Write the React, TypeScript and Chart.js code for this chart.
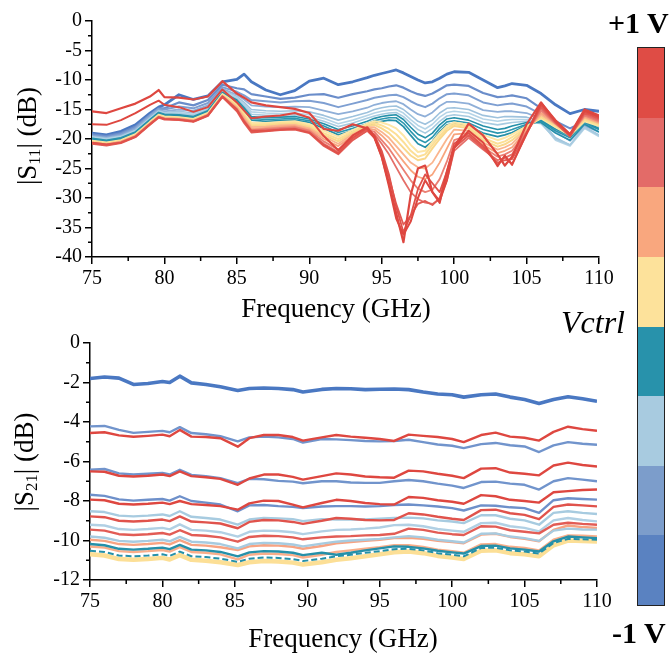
import React, { useEffect, useRef } from 'react';
import { Chart, registerables } from 'chart.js';
Chart.register(...registerables);

// ---------- S11 data ----------
const FREQ_S11 = [75,76,77,78,79,79.6,80,81,82,83,84,85,85.5,86,87,88,89,90,91,92,93,94,94.5,95,95.5,96,96.5,97,97.5,98,98.5,99,99.5,100,101,102,103,103.5,104,105,106,107,108,109,110];

const S11_B1 = [-19.0,-19.3,-18.7,-17.6,-15.6,-14.6,-14.2,-12.5,-13.3,-12.7,-10.3,-9.9,-9.0,-10.3,-11.7,-12.5,-11.8,-10.2,-9.7,-10.8,-10.3,-9.6,-9.2,-8.9,-8.6,-8.3,-8.8,-9.4,-10.0,-10.5,-10.3,-9.7,-9.0,-8.6,-8.7,-10.0,-11.3,-11.0,-10.6,-10.9,-12.3,-14.2,-15.7,-15.0,-15.3];
const S11_B2 = [-19.2,-19.5,-19.0,-17.9,-15.9,-14.8,-14.8,-13.8,-14.3,-13.4,-10.8,-11.4,-11.6,-12.4,-12.8,-13.2,-13.0,-12.5,-12.4,-13.0,-12.4,-11.9,-11.6,-11.4,-11.1,-10.9,-11.3,-11.9,-12.4,-12.7,-12.3,-11.6,-10.9,-10.8,-11.0,-12.2,-12.9,-12.8,-12.6,-13.1,-14.8,-17.0,-18.2,-17.0,-17.8];
const S11_B3 = [-19.4,-19.7,-19.2,-18.1,-16.0,-14.9,-15.0,-14.5,-14.8,-13.9,-11.2,-12.0,-12.6,-13.4,-13.6,-13.8,-13.6,-13.5,-13.9,-14.6,-14.0,-13.4,-13.0,-12.8,-12.6,-12.5,-12.9,-13.6,-14.2,-14.6,-14.0,-13.1,-12.4,-12.3,-12.6,-13.8,-14.3,-14.1,-14.0,-14.5,-15.8,-17.8,-19.2,-17.5,-18.3];
const S11_B4 = [-19.5,-19.8,-19.4,-18.3,-16.2,-15.1,-15.3,-15.0,-15.2,-14.3,-11.5,-12.5,-13.3,-14.3,-14.5,-14.6,-14.5,-14.6,-15.2,-15.8,-15.3,-14.7,-14.2,-13.9,-13.7,-13.6,-14.1,-15.0,-15.8,-16.2,-15.5,-14.4,-13.7,-13.7,-14.0,-15.1,-15.4,-15.3,-15.3,-15.6,-16.6,-18.8,-20.3,-17.8,-18.8];
const S11_L1 = [-19.6,-19.9,-19.5,-18.5,-16.4,-15.2,-15.5,-15.3,-15.6,-14.6,-11.7,-12.8,-13.8,-15.0,-15.2,-15.3,-15.2,-15.4,-16.0,-16.8,-16.2,-15.5,-15.0,-14.7,-14.5,-14.4,-15.0,-16.0,-17.0,-17.5,-16.8,-15.6,-14.8,-14.7,-15.0,-16.0,-16.4,-16.2,-16.2,-16.3,-17.0,-19.8,-21.0,-18.0,-19.3];
const S11_L2 = [-19.7,-20.0,-19.6,-18.6,-16.5,-15.3,-15.6,-15.5,-15.8,-14.8,-11.8,-13.0,-14.1,-15.4,-15.6,-15.7,-15.6,-15.9,-16.5,-17.4,-16.8,-16.0,-15.6,-15.3,-15.1,-15.0,-15.6,-16.7,-17.7,-18.3,-17.5,-16.3,-15.5,-15.3,-15.6,-16.6,-17.0,-16.8,-16.7,-16.7,-17.2,-20.2,-21.2,-18.2,-19.6];
const S11_L3 = [-19.8,-20.1,-19.7,-18.7,-16.6,-15.4,-15.7,-15.7,-16.0,-15.0,-12.0,-13.2,-14.4,-15.8,-16.0,-16.0,-15.9,-16.3,-17.0,-17.9,-17.3,-16.5,-16.1,-15.8,-15.6,-15.5,-16.2,-17.3,-18.4,-19.0,-18.2,-17.0,-16.1,-15.9,-16.2,-17.2,-17.6,-17.4,-17.2,-17.0,-17.4,-20.0,-21.0,-18.0,-19.4];
const S11_T1 = [-19.9,-20.2,-19.8,-18.8,-16.7,-15.5,-15.8,-15.9,-16.2,-15.2,-12.1,-13.4,-14.7,-16.2,-16.4,-16.3,-16.2,-16.6,-17.4,-18.4,-17.8,-17.0,-16.5,-16.2,-16.0,-15.9,-16.7,-18.0,-19.2,-19.8,-19.0,-17.6,-16.6,-16.4,-16.8,-17.8,-18.4,-18.2,-17.8,-17.2,-17.2,-19.0,-20.2,-17.5,-18.8];
const S11_T2 = [-20.0,-20.3,-19.9,-18.9,-16.8,-15.6,-15.9,-16.0,-16.3,-15.3,-12.2,-13.6,-15.0,-16.5,-16.7,-16.6,-16.5,-16.9,-17.8,-18.9,-18.2,-17.4,-16.9,-16.6,-16.4,-16.4,-17.3,-18.7,-20.0,-20.6,-19.7,-18.2,-17.1,-16.9,-17.3,-18.4,-19.0,-18.8,-18.4,-17.5,-17.0,-18.6,-19.8,-17.2,-18.4];
const S11_T3 = [-20.1,-20.4,-20.0,-19.0,-16.9,-15.7,-16.0,-16.1,-16.4,-15.4,-12.3,-13.8,-15.3,-16.8,-17.0,-16.9,-16.8,-17.2,-18.2,-19.3,-18.6,-17.8,-17.3,-17.0,-16.8,-16.9,-17.9,-19.4,-20.8,-21.4,-20.4,-18.8,-17.6,-17.4,-17.8,-19.0,-19.6,-19.3,-18.9,-17.7,-16.8,-18.3,-19.5,-17.0,-18.2];
const S11_Y1 = [-20.3,-20.6,-20.2,-19.2,-17.1,-15.9,-16.2,-16.3,-16.6,-15.6,-12.4,-14.0,-15.6,-17.2,-17.3,-17.1,-17.0,-17.5,-18.6,-19.6,-18.5,-17.4,-17.0,-17.2,-17.6,-18.2,-19.4,-21.0,-22.2,-22.0,-20.5,-19.0,-17.8,-17.2,-17.6,-19.3,-20.2,-19.8,-19.2,-17.8,-16.5,-18.0,-19.4,-17.0,-17.8];
const S11_Y2 = [-20.4,-20.7,-20.3,-19.3,-17.2,-16.0,-16.3,-16.4,-16.7,-15.7,-12.5,-14.2,-15.8,-17.5,-17.5,-17.3,-17.2,-17.8,-19.0,-20.0,-18.8,-17.6,-17.3,-17.7,-18.3,-19.2,-20.5,-22.0,-23.0,-22.6,-21.0,-19.5,-18.2,-17.5,-17.9,-19.8,-20.8,-20.4,-19.7,-18.0,-16.3,-17.8,-19.3,-16.8,-17.6];
const S11_Y3 = [-20.5,-20.8,-20.4,-19.4,-17.3,-16.1,-16.4,-16.5,-16.8,-15.8,-12.6,-14.4,-16.0,-17.8,-17.7,-17.5,-17.4,-18.0,-19.3,-20.4,-19.0,-17.8,-17.6,-18.2,-19.0,-20.2,-21.5,-22.8,-23.6,-23.3,-21.6,-20.0,-18.6,-17.8,-18.2,-20.2,-21.3,-20.9,-20.2,-18.2,-16.2,-17.6,-19.2,-16.6,-17.4];
const S11_O1 = [-20.6,-20.9,-20.5,-19.5,-17.4,-16.2,-16.5,-16.6,-16.9,-15.9,-12.7,-14.6,-16.3,-18.0,-17.9,-17.7,-17.6,-18.2,-19.6,-20.8,-19.2,-18.0,-18.0,-18.8,-19.8,-21.2,-22.6,-24.0,-24.8,-25.0,-24.0,-22.0,-20.0,-18.4,-18.6,-20.6,-21.8,-21.4,-20.8,-18.4,-15.9,-17.5,-19.2,-16.4,-17.3];
const S11_O2 = [-20.7,-21.0,-20.6,-19.6,-17.5,-16.3,-16.6,-16.7,-17.0,-16.0,-12.8,-14.8,-16.6,-18.3,-18.1,-17.9,-17.8,-18.4,-20.0,-21.2,-19.5,-18.2,-18.4,-19.4,-20.6,-22.2,-23.8,-25.3,-26.4,-26.8,-26.0,-24.0,-21.6,-19.2,-19.0,-21.0,-22.4,-22.0,-21.4,-18.6,-15.6,-17.4,-19.3,-16.2,-17.2];
const S11_LR1 = [-20.6,-20.9,-20.5,-19.5,-17.4,-16.2,-16.5,-16.6,-16.9,-15.9,-12.7,-14.9,-16.8,-18.5,-18.3,-18.1,-18.0,-18.6,-20.4,-21.8,-19.8,-18.4,-18.8,-20.2,-21.6,-23.4,-25.2,-27.0,-28.4,-29.0,-28.6,-26.8,-23.8,-20.2,-19.4,-21.4,-23.0,-22.6,-22.0,-18.8,-15.2,-17.4,-19.4,-16.0,-17.0];
const S11_LR2 = [-20.7,-21.0,-20.6,-19.6,-17.5,-16.3,-16.6,-16.7,-17.0,-16.0,-12.8,-15.1,-17.0,-18.7,-18.5,-18.3,-18.2,-18.8,-20.8,-22.2,-20.0,-18.6,-19.2,-20.8,-22.6,-24.8,-27.0,-29.0,-30.2,-30.8,-31.0,-30.2,-27.0,-22.0,-19.8,-21.8,-23.6,-23.2,-22.6,-19.0,-14.8,-17.3,-19.5,-15.8,-16.8];
const S11_R4 = [-20.8,-21.1,-20.7,-19.7,-17.6,-16.4,-16.7,-16.8,-17.1,-16.1,-12.9,-15.3,-17.3,-18.9,-18.7,-18.5,-18.4,-19.0,-21.2,-22.6,-20.2,-18.6,-19.8,-22.6,-26.5,-31.0,-34.5,-33.0,-31.0,-30.5,-31.2,-30.0,-26.0,-21.5,-19.4,-21.6,-24.0,-23.6,-23.4,-19.0,-14.5,-17.2,-19.6,-15.6,-16.6];
const S11_R3 = [-20.6,-20.9,-20.6,-19.6,-17.5,-16.3,-16.6,-16.7,-17.0,-16.0,-12.8,-15.0,-17.0,-18.6,-18.6,-18.4,-18.3,-18.9,-21.0,-22.4,-19.8,-18.2,-19.4,-22.0,-26.0,-31.5,-35.8,-33.0,-28.5,-26.0,-27.5,-29.0,-25.5,-20.8,-19.0,-21.2,-24.4,-23.0,-24.2,-19.2,-14.2,-17.0,-19.4,-15.4,-16.4];
const S11_R2 = [-17.5,-17.6,-16.8,-15.6,-14.2,-13.5,-14.2,-14.6,-15.4,-14.6,-11.6,-13.8,-15.2,-16.5,-16.2,-16.0,-15.6,-16.4,-19.5,-21.9,-19.4,-18.0,-19.6,-23.0,-28.0,-33.5,-36.2,-34.0,-30.0,-27.0,-29.0,-30.5,-27.0,-21.5,-18.6,-20.6,-24.6,-22.8,-24.4,-19.0,-13.9,-16.8,-19.2,-15.2,-16.2];
const S11_R1 = [-15.3,-15.6,-14.8,-14.0,-12.8,-11.7,-12.9,-13.0,-13.3,-12.8,-10.2,-12.3,-13.0,-13.8,-14.3,-14.6,-14.9,-15.6,-18.3,-18.6,-17.5,-18.2,-19.8,-23.0,-27.5,-32.6,-37.5,-29.5,-25.0,-24.5,-29.0,-30.8,-25.5,-21.5,-17.4,-19.4,-22.6,-24.5,-23.0,-17.5,-13.8,-17.0,-19.2,-15.0,-16.0];

// ---------- S21 data ----------
const FREQ_S21 = [75,76,77,78,79,80,80.5,81.2,82,83,84,85.2,86,87,88,89,89.7,91,92,93,94,95,96,97,98,99,100,100.8,102,103,104,105,106,107,108,109,110];

const S21_C1 = [-1.80,-1.72,-1.78,-2.10,-2.05,-1.95,-2.00,-1.68,-2.02,-2.10,-2.22,-2.40,-2.30,-2.28,-2.30,-2.36,-2.48,-2.35,-2.30,-2.32,-2.36,-2.34,-2.33,-2.36,-2.48,-2.58,-2.62,-2.74,-2.62,-2.58,-2.74,-2.86,-3.06,-2.86,-2.72,-2.82,-2.95];
const S21_C2 = [-4.22,-4.20,-4.40,-4.55,-4.50,-4.45,-4.52,-4.26,-4.56,-4.62,-4.72,-4.98,-4.78,-4.74,-4.78,-4.86,-5.04,-4.86,-4.88,-4.92,-4.96,-4.98,-4.96,-4.90,-5.02,-5.14,-5.20,-5.32,-5.12,-5.06,-5.18,-5.24,-5.52,-5.18,-5.02,-5.10,-5.15];
const S21_C3 = [-4.56,-4.52,-4.68,-4.75,-4.70,-4.64,-4.72,-4.40,-4.74,-4.76,-4.82,-5.25,-4.82,-4.66,-4.66,-4.76,-4.94,-4.78,-4.66,-4.74,-4.80,-4.86,-4.96,-4.64,-4.70,-4.76,-4.86,-5.02,-4.66,-4.54,-4.74,-4.80,-4.94,-4.50,-4.24,-4.36,-4.44];
const S21_C4 = [-6.42,-6.38,-6.60,-6.66,-6.62,-6.58,-6.66,-6.42,-6.68,-6.74,-6.84,-7.10,-6.88,-6.90,-6.98,-7.02,-7.10,-7.00,-7.00,-7.06,-7.08,-7.08,-7.00,-6.94,-7.00,-7.12,-7.22,-7.34,-7.04,-7.02,-7.12,-7.18,-7.42,-7.00,-6.84,-6.92,-7.00];
const S21_C5 = [-6.50,-6.52,-6.72,-6.76,-6.72,-6.66,-6.74,-6.50,-6.74,-6.80,-6.88,-7.18,-6.86,-6.66,-6.66,-6.78,-6.92,-6.74,-6.60,-6.66,-6.76,-6.80,-6.82,-6.46,-6.50,-6.62,-6.72,-6.84,-6.36,-6.34,-6.56,-6.62,-6.70,-6.20,-6.06,-6.18,-6.25];
const S21_C6 = [-7.68,-7.74,-7.92,-7.98,-7.94,-7.90,-7.98,-7.76,-8.00,-8.08,-8.18,-8.52,-8.22,-8.20,-8.26,-8.30,-8.36,-8.28,-8.26,-8.26,-8.28,-8.26,-8.20,-8.18,-8.22,-8.28,-8.36,-8.48,-8.22,-8.24,-8.32,-8.36,-8.60,-7.96,-7.86,-7.90,-7.93];
const S21_C7 = [-7.93,-7.96,-8.14,-8.18,-8.14,-8.08,-8.16,-8.00,-8.16,-8.20,-8.26,-8.44,-8.12,-7.98,-8.00,-8.18,-8.32,-8.10,-7.94,-8.00,-8.10,-8.16,-8.18,-7.80,-7.84,-7.96,-8.04,-8.14,-7.70,-7.76,-7.94,-8.00,-8.08,-7.56,-7.50,-7.44,-7.42];
const S21_C8 = [-8.52,-8.56,-8.74,-8.78,-8.74,-8.68,-8.76,-8.52,-8.80,-8.86,-8.94,-9.20,-8.94,-8.86,-8.88,-8.92,-9.02,-8.92,-8.94,-8.94,-8.94,-8.90,-8.86,-8.84,-8.88,-8.98,-9.04,-9.12,-8.72,-8.72,-8.90,-8.98,-9.20,-8.60,-8.52,-8.60,-8.66];
const S21_C9 = [-8.78,-8.82,-9.00,-9.04,-9.00,-8.94,-9.02,-8.78,-9.04,-9.08,-9.14,-9.38,-9.06,-8.96,-8.98,-9.06,-9.16,-9.00,-8.86,-8.90,-8.96,-8.98,-8.96,-8.62,-8.68,-8.80,-8.90,-8.96,-8.46,-8.44,-8.62,-8.70,-8.92,-8.30,-8.18,-8.22,-8.27];
const S21_C10 = [-9.20,-9.24,-9.42,-9.46,-9.42,-9.36,-9.44,-9.18,-9.46,-9.50,-9.58,-9.80,-9.56,-9.50,-9.52,-9.58,-9.68,-9.54,-9.46,-9.44,-9.40,-9.34,-9.22,-9.20,-9.28,-9.42,-9.50,-9.56,-9.12,-9.10,-9.28,-9.36,-9.54,-8.98,-8.86,-8.96,-9.03];
const S21_C11 = [-9.45,-9.50,-9.68,-9.72,-9.68,-9.62,-9.70,-9.48,-9.72,-9.76,-9.84,-10.06,-9.82,-9.76,-9.78,-9.84,-9.94,-9.84,-9.80,-9.78,-9.74,-9.72,-9.66,-9.40,-9.46,-9.60,-9.68,-9.72,-9.28,-9.30,-9.48,-9.56,-9.64,-9.20,-9.10,-9.16,-9.20];
const S21_C12 = [-9.80,-9.86,-10.02,-10.06,-10.02,-9.96,-10.04,-9.82,-10.06,-10.10,-10.18,-10.40,-10.18,-10.12,-10.14,-10.20,-10.30,-10.16,-10.06,-10.00,-9.96,-9.92,-9.84,-9.78,-9.84,-9.96,-10.04,-10.10,-9.66,-9.64,-9.80,-9.88,-10.02,-9.50,-9.40,-9.44,-9.45];
const S21_C13 = [-9.96,-10.02,-10.18,-10.22,-10.18,-10.12,-10.20,-9.98,-10.22,-10.26,-10.34,-10.48,-10.30,-10.24,-10.26,-10.32,-10.42,-10.28,-10.14,-10.08,-10.02,-9.96,-9.88,-9.86,-9.92,-10.02,-10.08,-10.14,-9.70,-9.66,-9.82,-9.92,-10.04,-9.46,-9.24,-9.32,-9.37];
const S21_C14 = [-10.18,-10.24,-10.42,-10.46,-10.42,-10.36,-10.44,-10.22,-10.46,-10.50,-10.58,-10.80,-10.60,-10.54,-10.56,-10.62,-10.74,-10.62,-10.72,-10.62,-10.50,-10.40,-10.30,-10.32,-10.40,-10.52,-10.60,-10.66,-10.28,-10.26,-10.40,-10.46,-10.56,-10.04,-9.80,-9.84,-9.88];
const S21_C15 = [-10.30,-10.36,-10.54,-10.58,-10.54,-10.48,-10.56,-10.34,-10.58,-10.62,-10.70,-10.96,-10.72,-10.66,-10.68,-10.74,-10.86,-10.72,-10.58,-10.50,-10.42,-10.34,-10.24,-10.24,-10.32,-10.46,-10.54,-10.62,-10.20,-10.18,-10.32,-10.38,-10.50,-9.96,-9.74,-9.76,-9.79];
const S21_C16 = [-10.52,-10.58,-10.76,-10.80,-10.76,-10.70,-10.78,-10.56,-10.80,-10.84,-10.92,-11.08,-10.92,-10.86,-10.88,-10.94,-11.04,-10.92,-10.80,-10.72,-10.62,-10.54,-10.44,-10.42,-10.50,-10.64,-10.72,-10.80,-10.38,-10.36,-10.50,-10.56,-10.66,-10.12,-9.92,-9.94,-9.96];
const S21_C17 = [-10.70,-10.76,-10.94,-10.98,-10.94,-10.88,-10.96,-10.74,-10.98,-11.02,-11.10,-11.24,-11.10,-11.04,-11.06,-11.12,-11.22,-11.10,-10.98,-10.90,-10.80,-10.70,-10.60,-10.56,-10.64,-10.78,-10.86,-10.94,-10.52,-10.50,-10.64,-10.70,-10.80,-10.24,-10.00,-10.02,-10.05];

// ---------- ticks ----------
const X_MINOR = [77.5, 82.5, 87.5, 92.5, 97.5, 102.5, 107.5];
const S11_Y_MINOR = [-2.5, -7.5, -12.5, -17.5, -22.5, -27.5, -32.5, -37.5];
const S21_Y_MINOR = [-1, -3, -5, -7, -9, -11];

// ---------- colour bar ----------
const BAR_COLORS = ['#DF4C45', '#E36B68', '#F9A77E', '#FDE29B', '#2892AB', '#A8CBE0', '#7C9DCB', '#5A82C1'];

const C_BLUE = '#4A78C2';
const C_MBLUE = '#7194CC';
const C_LBLUE = '#A7CBE0';
const C_TEAL = '#2590A9';
const C_YEL = '#FCDF96';
const C_ORG = '#F8A57E';
const C_LRED = '#E56E68';
const C_RED = '#DE4740';

const FONT = '"Liberation Serif", "Times New Roman", serif';

function mk(freq: number[], vals: number[], color: string, width: number, extra: any = {}) {
  return {
    data: freq.map((f, i) => ({ x: f, y: vals[i] })),
    borderColor: color,
    borderWidth: width,
    pointRadius: 0,
    fill: false,
    tension: 0,
    borderJoinStyle: 'round',
    ...extra,
  };
}

function minorTicksPlugin(xMinor: number[], yMinor: number[]) {
  return {
    id: 'minorTicks',
    afterDraw(chart: any) {
      const { ctx, chartArea, scales } = chart;
      ctx.save();
      ctx.strokeStyle = '#000';
      ctx.lineWidth = 1.5;
      ctx.beginPath();
      xMinor.forEach((v) => {
        const px = scales.x.getPixelForValue(v);
        ctx.moveTo(px, chartArea.bottom);
        ctx.lineTo(px, chartArea.bottom + 4);
      });
      yMinor.forEach((v) => {
        const py = scales.y.getPixelForValue(v);
        ctx.moveTo(chartArea.left, py);
        ctx.lineTo(chartArea.left - 4, py);
      });
      ctx.stroke();
      ctx.restore();
    },
  };
}

function axisOpts(min: number, max: number, step: number, fit: (s: any) => void) {
  return {
    type: 'linear',
    min,
    max,
    ticks: { stepSize: step, color: '#000', font: { family: FONT, size: 20 }, padding: 3 },
    grid: { display: true, drawOnChartArea: false, drawTicks: true, tickLength: 7, color: '#000', lineWidth: 1.5 },
    border: { display: true, color: '#000', width: 1.5 },
    afterFit: fit,
  };
}

function makeOptions(yMin: number, yMax: number, yStep: number, padTop: number, padRight: number, yW: number, xH: number) {
  return {
    animation: false,
    responsive: false,
    devicePixelRatio: 1,
    layout: { padding: { top: padTop, right: padRight, left: 0, bottom: 0 } },
    plugins: { legend: { display: false }, tooltip: { enabled: false } },
    scales: {
      x: axisOpts(75, 110, 5, (s: any) => { s.height = xH; }),
      y: axisOpts(yMin, yMax, yStep, (s: any) => { s.width = yW; }),
    },
  };
}

export default function App() {
  const topRef = useRef<HTMLCanvasElement>(null);
  const botRef = useRef<HTMLCanvasElement>(null);

  useEffect(() => {
    const F = FREQ_S11;
    const s11Sets = [
      mk(F, S11_R1, C_RED, 2.2),
      mk(F, S11_R2, C_RED, 2),
      mk(F, S11_R3, '#E0514A', 1.8),
      mk(F, S11_R4, '#E25A53', 1.8),
      mk(F, S11_LR2, C_LRED, 1.8),
      mk(F, S11_LR1, '#EB8074', 1.8),
      mk(F, S11_O2, C_ORG, 1.8),
      mk(F, S11_O1, '#FAB58E', 1.8),
      mk(F, S11_Y3, '#F9D88C', 2),
      mk(F, S11_Y2, C_YEL, 2),
      mk(F, S11_Y1, '#FDE6A6', 2),
      mk(F, S11_T3, C_TEAL, 1.8),
      mk(F, S11_T2, '#2C97AF', 1.6),
      mk(F, S11_T1, C_TEAL, 1.6),
      mk(F, S11_L3, C_LBLUE, 1.6),
      mk(F, S11_L2, '#B5D4E7', 1.6),
      mk(F, S11_L1, '#9EC2DD', 1.6),
      mk(F, S11_B4, '#8FAFD8', 1.8),
      mk(F, S11_B3, '#7E9FD2', 2),
      mk(F, S11_B2, '#6A8DCA', 2.2),
      mk(F, S11_B1, C_BLUE, 2.8),
    ];
    const G = FREQ_S21;
    const s21Sets = [
      mk(G, S21_C1, C_BLUE, 3.6),
      mk(G, S21_C3, C_RED, 2.4),
      mk(G, S21_C2, C_MBLUE, 2.4),
      mk(G, S21_C5, C_RED, 2.4),
      mk(G, S21_C4, C_MBLUE, 2.4),
      mk(G, S21_C7, C_RED, 2.4),
      mk(G, S21_C6, '#6E90CA', 2.4),
      mk(G, S21_C9, '#E0534C', 2.4),
      mk(G, S21_C8, C_LBLUE, 2.4),
      mk(G, S21_C11, '#E25C55', 2.4),
      mk(G, S21_C10, '#B1D0E4', 2.4),
      mk(G, S21_C12, C_LBLUE, 2.4),
      mk(G, S21_C13, '#F7A382', 2.4),
      mk(G, S21_C14, C_TEAL, 2.4),
      mk(G, S21_C15, '#F9AE8A', 2.4),
      mk(G, S21_C16, C_TEAL, 2, { borderDash: [6, 3] }),
      mk(G, S21_C17, C_YEL, 4.5),
    ];

    const top = new Chart(topRef.current as HTMLCanvasElement, {
      type: 'line',
      data: { datasets: s11Sets as any },
      options: makeOptions(-40, 0, 5, 21, 21, 92, 63) as any,
      plugins: [minorTicksPlugin(X_MINOR, S11_Y_MINOR)],
    });
    const bot = new Chart(botRef.current as HTMLCanvasElement, {
      type: 'line',
      data: { datasets: s21Sets as any },
      options: makeOptions(-12, 0, 2, 23, 23, 90, 76) as any,
      plugins: [minorTicksPlugin(X_MINOR, S21_Y_MINOR)],
    });
    return () => {
      top.destroy();
      bot.destroy();
    };
  }, []);

  const txt: React.CSSProperties = { position: 'absolute', fontFamily: FONT, color: '#000', whiteSpace: 'nowrap', lineHeight: 1 };

  return (
    <div style={{ position: 'absolute', left: 0, top: 0, width: 671, height: 656, background: '#fff', overflow: 'hidden' }}>
      <canvas ref={topRef} width={620} height={320} style={{ position: 'absolute', left: 0, top: 0, display: 'block' }} />
      <canvas ref={botRef} width={620} height={336} style={{ position: 'absolute', left: 0, top: 320, display: 'block' }} />

      {/* y-axis titles */}
      <div style={{ ...txt, fontSize: 27, left: 29, top: 136, transform: 'translate(-50%,-50%) rotate(-90deg)' }}>
        |S<sub style={{ fontSize: '0.62em', verticalAlign: '-0.25em' }}>11</sub>| (dB)
      </div>
      <div style={{ ...txt, fontSize: 27, left: 26, top: 462, transform: 'translate(-50%,-50%) rotate(-90deg)' }}>
        |S<sub style={{ fontSize: '0.62em', verticalAlign: '-0.25em' }}>21</sub>| (dB)
      </div>

      {/* x-axis titles */}
      <div style={{ ...txt, fontSize: 27, left: 336, top: 295, transform: 'translateX(-50%)' }}>Frequency (GHz)</div>
      <div style={{ ...txt, fontSize: 27, left: 343, top: 625, transform: 'translateX(-50%)' }}>Frequency (GHz)</div>

      {/* colour bar */}
      <div style={{ ...txt, fontSize: 30, fontWeight: 'bold', left: 608, top: 8 }}>+1 V</div>
      <div style={{ ...txt, fontSize: 30, fontWeight: 'bold', left: 612, top: 618 }}>-1 V</div>
      <div style={{ ...txt, fontSize: 32, fontStyle: 'italic', left: 561, top: 306 }}>Vctrl</div>
      <div style={{ position: 'absolute', left: 637, top: 47, width: 26, height: 557, border: '1px solid #222', display: 'flex', flexDirection: 'column' }}>
        {BAR_COLORS.map((c) => (
          <div key={c} style={{ flex: 1, background: c }} />
        ))}
      </div>
    </div>
  );
}
